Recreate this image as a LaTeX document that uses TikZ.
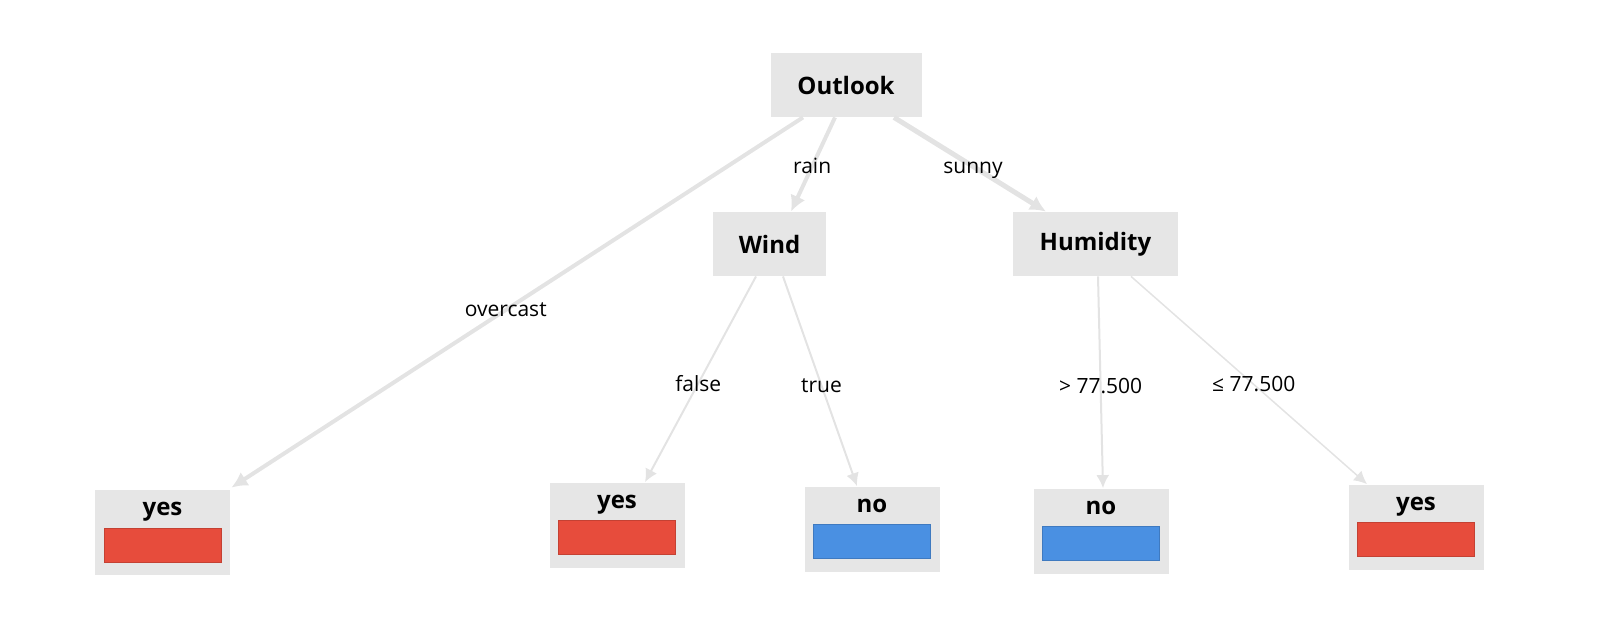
\documentclass[tikz,border=0pt]{standalone}
\usepackage{fontspec}
\setmainfont{Open Sans}
\usetikzlibrary{arrows.meta}
\definecolor{boxgray}{HTML}{E6E6E6}
\definecolor{linkgray}{HTML}{E3E3E3}
\definecolor{yesred}{HTML}{E74C3C}
\definecolor{noblue}{HTML}{4A90E2}

\begin{document}
\begin{tikzpicture}
  [x=0.5pt,y=-0.5pt,every node/.style={inner sep=0pt},
   attr/.style={rectangle,fill=boxgray,minimum height=32pt,font=\fontsize{12}{14}\selectfont\bfseries},
   leaf/.style={rectangle,fill=boxgray,minimum width=67.5pt,minimum height=42.5pt,
     text height=8pt,text depth=25pt,font=\fontsize{12}{14}\selectfont\bfseries,
     path picture={\fill[#1,draw=#1!85!black,line width=0.4pt]
       ([xshift=4.5pt,yshift=6.5pt]path picture bounding box.south west) rectangle
       ([xshift=-4.5pt,yshift=23.5pt]path picture bounding box.south east);}},
   link/.style={draw=linkgray,line width=1pt,-{Latex[length=6.5pt,width=6.5pt]}},
   trunk/.style={link,line width=2pt,-{Latex[length=8pt,width=8pt]}},
   lbl/.style={pos=0.52,font=\fontsize{10.5}{12}\selectfont}]
  \useasboundingbox (0,0) rectangle (1600,638);
  % splits
  \node[attr,minimum width=75.5pt] (outlook) at (846,85) {Outlook};
  \node[attr,minimum width=56.5pt] (wind) at (769.5,244) {Wind};
  \node[attr,minimum width=82.5pt] (humidity) at (1095.5,244) {Humidity};
  % leaves
  \node[leaf=yesred] (yes1) at (162.5,532.5) {yes};
  \node[leaf=yesred] (yes2) at (617,525) {yes};
  \node[leaf=noblue] (no1) at (872,529) {no};
  \node[leaf=noblue] (no2) at (1101,531) {no};
  \node[leaf=yesred] (yes3) at (1416,527) {yes};
  % branches
  \draw[trunk] ([xshift=-21.5pt]outlook.south) -- node[lbl] (overcast) {overcast} ([xshift=0.5pt,yshift=1pt]yes1.north east);
  \draw[trunk] ([xshift=-5.5pt]outlook.south) -- node[lbl] (rain) {rain} ([xshift=10.75pt]wind.north);
  \draw[trunk,line width=2.5pt] ([xshift=24pt]outlook.south) -- node[lbl,yshift=-2pt] (sunny) {sunny} ([xshift=-24.75pt]humidity.north);
  \draw[link] ([xshift=-6.75pt]wind.south) -- node[lbl] (false) {false} ([xshift=14pt]yes2.north);
  \draw[link] ([xshift=6.75pt]wind.south) -- node[lbl] (true) {true} ([xshift=-7.5pt]no1.north);
  \draw[link] ([xshift=1.25pt]humidity.south) -- node[lbl] (gt) {> 77.500} ([xshift=1pt]no2.north);
  \draw[link,line width=0.75pt] ([xshift=17.75pt]humidity.south) -- node[lbl] (le) {≤ 77.500} ([xshift=-24.5pt]yes3.north);
\end{tikzpicture}
\end{document}
